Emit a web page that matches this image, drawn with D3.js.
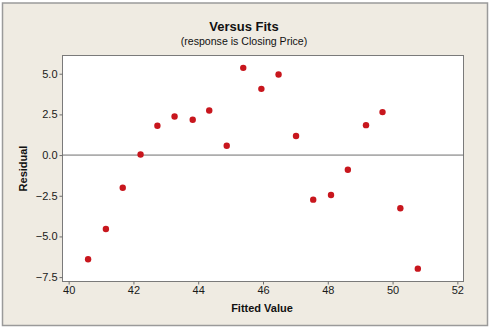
<!DOCTYPE html>
<html>
<head>
<meta charset="utf-8">
<script src="https://cdn.jsdelivr.net/npm/d3@7"></script>
<style>
  html, body { margin: 0; padding: 0; background: #ffffff; }
  svg { display: block; }
  text { font-family: "Liberation Sans", Arial, sans-serif; }
</style>
</head>
<body>
<svg id="chart" width="490" height="328"></svg>
<script>
// Residuals versus fitted values
const fittedValues = [40.60, 41.15, 41.67, 42.22, 42.74, 43.27, 43.83, 44.34, 44.88, 45.39,
                      45.95, 46.48, 47.02, 47.55, 48.10, 48.62, 49.18, 49.69, 50.24, 50.78];
const residuals    = [-6.40, -4.54, -2.01, 0.04, 1.80, 2.37, 2.17, 2.74, 0.57, 5.36,
                      4.07, 4.95, 1.17, -2.74, -2.45, -0.90, 1.84, 2.64, -3.27, -6.98];
const xTicks = [40, 42, 44, 46, 48, 50, 52];
const yTicks = [-7.5, -5.0, -2.5, 0.0, 2.5, 5.0];

const svg = d3.select("#chart");
const W = 490, H = 328;
const plot = { left: 62.5, right: 463.5, top: 55.5, bottom: 281.5 };

// Outer panel
svg.append("rect")
  .attr("x", 2.5).attr("y", 3).attr("width", W - 5).attr("height", H - 5.5)
  .attr("fill", "#efebe2").attr("stroke", "#9a9a9a").attr("stroke-width", 1.5);

const x = d3.scaleLinear().domain([39.81, 52.19]).range([plot.left, plot.right]);
const y = d3.scaleLinear().domain([-7.77, 6.12]).range([plot.bottom, plot.top]);

// Data region
svg.append("rect")
  .attr("x", plot.left).attr("y", plot.top)
  .attr("width", plot.right - plot.left).attr("height", plot.bottom - plot.top)
  .attr("fill", "#ffffff").attr("stroke", "#7a7a7a").attr("stroke-width", 1);

// Reference line at zero
svg.append("line")
  .attr("x1", plot.left).attr("x2", plot.right)
  .attr("y1", y(0)).attr("y2", y(0))
  .attr("stroke", "#6e6e6e").attr("stroke-width", 1);

// Axes
const xAxis = d3.axisBottom(x).tickValues(xTicks).tickFormat(d3.format("d"))
  .tickSizeOuter(0).tickSizeInner(3).tickPadding(2);
const yAxis = d3.axisLeft(y).tickValues(yTicks).tickFormat(d3.format(".1f"))
  .tickSizeOuter(0).tickSizeInner(3).tickPadding(2);

const gx = svg.append("g").attr("transform", `translate(0,${plot.bottom})`).call(xAxis);
const gy = svg.append("g").attr("transform", `translate(${plot.left},0)`).call(yAxis);
[gx, gy].forEach(g => {
  g.select(".domain").remove();
  g.selectAll(".tick line").attr("stroke", "#6e6e6e");
  g.selectAll(".tick text").attr("fill", "#1a1a1a").style("font-size", "11px");
});

// Points
svg.append("g").selectAll("circle")
  .data(fittedValues.map((v, i) => [v, residuals[i]]))
  .join("circle")
  .attr("cx", d => x(d[0]))
  .attr("cy", d => y(d[1]))
  .attr("r", 3.2)
  .attr("fill", "#c8161d");

// Titles
svg.append("text")
  .attr("x", W / 2 - 1).attr("y", 30.5).attr("text-anchor", "middle")
  .style("font-size", "13px").style("font-weight", "bold").attr("fill", "#111")
  .text("Versus Fits");
svg.append("text")
  .attr("x", W / 2 - 1).attr("y", 45).attr("text-anchor", "middle")
  .style("font-size", "10.6px").attr("fill", "#111")
  .text("(response is Closing Price)");
svg.append("text")
  .attr("x", 262).attr("y", 312).attr("text-anchor", "middle")
  .style("font-size", "11px").style("font-weight", "bold").attr("fill", "#111")
  .text("Fitted Value");
svg.append("text")
  .attr("transform", `translate(27,${(plot.top + plot.bottom) / 2}) rotate(-90)`)
  .attr("text-anchor", "middle")
  .style("font-size", "11px").style("font-weight", "bold").attr("fill", "#111")
  .text("Residual");
</script>
</body>
</html>
